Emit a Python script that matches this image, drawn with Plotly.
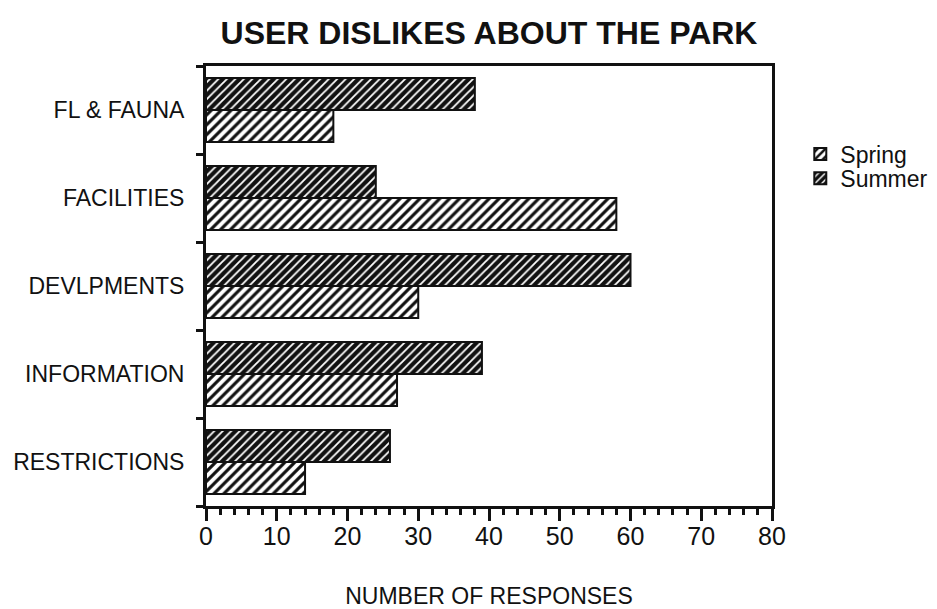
import plotly.graph_objects as go

# Survey results: number of responses per dislike category
categories = ["FL & FAUNA", "FACILITIES", "DEVLPMENTS", "INFORMATION", "RESTRICTIONS"]
spring = [18, 58, 30, 27, 14]
summer = [38, 24, 60, 39, 26]
x_ticks = [0, 10, 20, 30, 40, 50, 60, 70, 80]

FONT = "Liberation Sans, Arial, sans-serif"
INK = "#111111"

fig = go.Figure()
fig.add_trace(go.Bar(
    name="Spring", y=categories, x=spring, orientation="h", legend="legend",
    marker=dict(
        color="white",
        line=dict(color=INK, width=2),
        pattern=dict(shape="/", bgcolor="white", fgcolor=INK,
                     size=7, solidity=0.45, fillmode="replace"),
    ),
))
fig.add_trace(go.Bar(
    name="Summer", y=categories, x=summer, orientation="h", legend="legend2",
    marker=dict(
        color=INK,
        line=dict(color=INK, width=2),
        pattern=dict(shape="/", bgcolor=INK, fgcolor="white",
                     size=6, solidity=0.3, fillmode="replace"),
    ),
))

legend_style = dict(
    x=1.05, xanchor="left", yanchor="middle",
    font=dict(family=FONT, size=23, color=INK),
    bgcolor="rgba(0,0,0,0)", itemsizing="constant",
)

fig.update_layout(
    width=937, height=609,
    margin=dict(l=206, r=165, t=66, b=103, autoexpand=False),
    paper_bgcolor="white", plot_bgcolor="white",
    barmode="group", bargap=0.27, bargroupgap=0,
    font=dict(family=FONT, color=INK, size=20),
    title=dict(
        text="<b>USER DISLIKES ABOUT THE PARK</b>",
        font=dict(family=FONT, size=32, color=INK),
        x=(206 + 772) / 2 / 937, xanchor="center",
        y=1 - 33 / 609, yanchor="middle",
    ),
    legend=dict(y=0.80, **legend_style),
    legend2=dict(y=0.745, **legend_style),
    showlegend=True,
)

fig.update_xaxes(
    range=[0, 80], tickvals=x_ticks, ticktext=[str(v) for v in x_ticks],
    automargin=False,
    showgrid=False, zeroline=False,
    showline=True, linecolor=INK, linewidth=3, mirror=True,
    ticks="outside", ticklen=12, tickwidth=3, tickcolor=INK,
    minor=dict(dtick=2, ticks="outside", ticklen=6, tickwidth=3, tickcolor=INK, showgrid=False),
    tickfont=dict(family=FONT, size=25, color=INK),
    ticklabelstandoff=-6,
    title=dict(text="NUMBER OF RESPONSES", font=dict(family=FONT, size=23, color=INK), standoff=42),
)
fig.update_yaxes(
    categoryorder="array", categoryarray=categories[::-1],
    automargin=False,
    showgrid=False, zeroline=False,
    showline=True, linecolor=INK, linewidth=3, mirror=True,
    ticks="outside", tickson="boundaries", ticklen=7, tickwidth=3, tickcolor=INK,
    tickfont=dict(family=FONT, size=23, color=INK),
    ticklabelstandoff=14,
)

fig.write_html("out.html")
